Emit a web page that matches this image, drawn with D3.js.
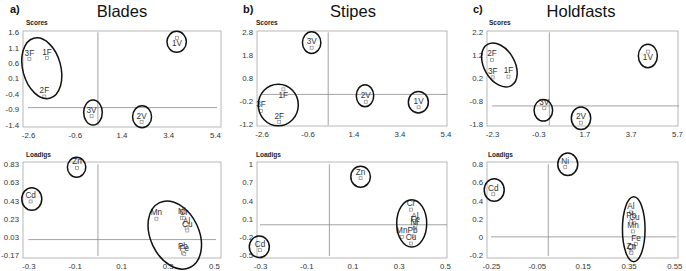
<!DOCTYPE html>
<html><head><meta charset="utf-8">
<script src="https://cdn.jsdelivr.net/npm/d3@7"></script>
<style>body{margin:0;background:#fff} svg{display:block;font-family:"Liberation Sans",Arial,sans-serif}</style>
</head><body><svg id="c" width="686" height="271"></svg>
<script>
// ---------- data ----------
const scoreNames = ["1F","2F","3F","1V","2V","3V"];
const bladesScoreX = [-1.79,-1.90,-2.54,3.77,2.26,0.12];
const bladesScoreY = [0.76,-0.49,0.73,1.42,-1.32,-1.13];
const stipesScoreX = [-1.65,-1.83,-2.62,4.23,1.93,-0.42];
const stipesScoreY = [0.32,-1.10,-0.62,-0.46,-0.22,2.13];
const holdScoreX = [-1.59,-2.30,-2.27,4.44,1.55,-0.04];
const holdScoreY = [0.27,1.00,0.24,1.36,-1.73,-1.10];

const bladesLoadNames = ["Zn","Cd","Mn","Ni","Cr","Al","Cu","Pb","Fe"];
const bladesLoadX = [-0.09,-0.29,0.252,0.362,0.37,0.382,0.385,0.366,0.372];
const bladesLoadY = [0.79,0.42,0.23,0.24,0.235,0.13,0.10,-0.145,-0.16];
const stipesLoadNames = ["Zn","Cd","Cr","Al","Fe","Ni","Mn","Pb","Cu"];
const stipesLoadX = [0.135,-0.30,0.353,0.37,0.372,0.368,0.313,0.36,0.353];
const stipesLoadY = [0.77,-0.42,0.25,0.03,-0.02,-0.06,-0.20,-0.19,-0.31];
const holdLoadNames = ["Ni","Cd","Al","Pb","Cu","Mn","Fe","Zn","Cr"];
const holdLoadX = [0.074,-0.24,0.361,0.362,0.376,0.37,0.383,0.362,0.363];
const holdLoadY = [0.77,0.47,0.27,0.17,0.15,0.06,-0.08,-0.17,-0.18];

const scoreXTicksAB = [-2.6,-0.6,1.4,3.4,5.4];
const bladesScoreYTicks = [1.6,1.1,0.6,0.1,-0.4,-0.9,-1.4];
const stipesScoreYTicks = [2.8,1.8,0.8,-0.2,-1.2];
const holdScoreXTicks = [-2.3,-0.3,1.7,3.7,5.7];
const holdScoreYTicks = [2.2,1.2,0.2,-0.8,-1.8];
const loadXTicksAB = [-0.3,-0.1,0.1,0.3,0.5];
const bladesLoadYTicks = [0.83,0.63,0.43,0.23,0.03,-0.17];
const stipesLoadYTicks = [1,0.7,0.4,0.1,-0.2,-0.5];
const holdLoadXTicks = [-0.25,-0.05,0.15,0.35,0.55];
const holdLoadYTicks = [0.8,0.6,0.4,0.2,0,-0.2];

const titles = ["Blades","Stipes","Holdfasts"];
const letters = ["a)","b)","c)"];

// group ellipses: centre in data units
const bladesScoreGroups = [{x:-2.01,y:0.43},{x:3.76,y:1.29},{x:0.18,y:-1.01},{x:2.28,y:-1.15}];
const stipesScoreGroups = [{x:-1.87,y:-0.36},{x:-0.42,y:2.35},{x:1.90,y:0.04},{x:4.22,y:-0.24}];
const holdScoreGroups = [{x:-1.98,y:0.78},{x:4.44,y:1.17},{x:-0.08,y:-1.19},{x:1.55,y:-1.54}];
const bladesLoadGroups = [{x:-0.092,y:0.797},{x:-0.285,y:0.447},{x:0.331,y:0.05}];
const stipesLoadGroups = [{x:0.135,y:0.795},{x:-0.303,y:-0.364},{x:0.356,y:0.023}];
const holdLoadGroups = [{x:0.085,y:0.80},{x:-0.236,y:0.516},{x:0.373,y:0.085}];

// crossing reference lines (data units)
const crossX = [0.39,0.30,0.18,0,0,0];
const crossY = [-0.85,0.10,-1.0,0,0,0];

// ---------- layout (pixels) ----------
const panels = [
 {names:scoreNames,X:bladesScoreX,Y:bladesScoreY,xt:scoreXTicksAB,yt:bladesScoreYTicks,xr:[28,215],yr:[124.5,32.3],box:[23,31,221,127],
  groups:bladesScoreGroups,ell:[[19,31,-15],[9.7,10.5,0],[9.3,12.5,0],[9.5,11,0]],below:["1V"],head:"Scores",hx:26,hy:25},
 {names:scoreNames,X:stipesScoreX,Y:stipesScoreY,xt:scoreXTicksAB,yt:stipesScoreYTicks,xr:[261.5,445.5],yr:[124.3,32.3],box:[257,31,447,126],
  groups:stipesScoreGroups,ell:[[20,20.8,0],[9.2,10.8,0],[8.7,11,0],[10,10.8,0]],below:["1F"],head:"Scores",hx:256,hy:25},
 {names:scoreNames,X:holdScoreX,Y:holdScoreY,xt:holdScoreXTicks,yt:holdScoreYTicks,xr:[492,677],yr:[124.3,32.3],box:[487,31,678,126],
  groups:holdScoreGroups,ell:[[15.3,23.8,-30],[9.5,11.8,0],[9.3,10.8,0],[9.7,11.3,0]],below:["1V"],head:"Scores",hx:489,hy:25},
 {names:bladesLoadNames,X:bladesLoadX,Y:bladesLoadY,xt:loadXTicksAB,yt:bladesLoadYTicks,xr:[28.3,214],yr:[255,164.3],box:[23,162,221,258],
  groups:bladesLoadGroups,ell:[[9.2,10,0],[10,11.3,0],[24.3,35.8,-25]],below:[],head:"Loadigs",hx:26,hy:157},
 {names:stipesLoadNames,X:stipesLoadX,Y:stipesLoadY,xt:loadXTicksAB,yt:stipesLoadYTicks,xr:[260,445],yr:[255,164.3],box:[257,162,447,258],
  groups:stipesLoadGroups,ell:[[9.8,10.5,0],[10,10.8,0],[15,23.7,0]],below:[],head:"Loadigs",hx:256,hy:157},
 {names:holdLoadNames,X:holdLoadX,Y:holdLoadY,xt:holdLoadXTicks,yt:holdLoadYTicks,xr:[491,674.3],yr:[255,164.3],box:[487,162,678,258],
  groups:holdLoadGroups,ell:[[10,11.2,0],[10,11.3,0],[11.3,32.5,0]],below:[],head:"Loadigs",hx:488,hy:157}
];

const svg = d3.select("#c");
const fmt = d => String(d);

// titles
const titleCentre = [122,353,581];
const letterX = [10,243,473];
titles.forEach((t,i)=>{
  svg.append("text").attr("x",letterX[i]).attr("y",13).attr("font-size",11).attr("font-weight","bold").attr("fill","#111").text(letters[i]);
  svg.append("text").attr("x",titleCentre[i]).attr("y",16.5).attr("text-anchor","middle").attr("font-size",16.5).attr("fill","#111").text(t);
});

panels.forEach((p,pi)=>{
  const x = d3.scaleLinear().domain([p.xt[0],p.xt[p.xt.length-1]]).range(p.xr);
  const y = d3.scaleLinear().domain([p.yt[p.yt.length-1],p.yt[0]]).range(p.yr);
  const g = svg.append("g");
  const [bx0,by0,bx1,by1] = p.box;
  g.append("rect").attr("x",bx0).attr("y",by0).attr("width",bx1-bx0).attr("height",by1-by0)
    .attr("fill","none").attr("stroke","#a6a6a6").attr("stroke-width",0.8);
  g.append("text").attr("x",p.hx).attr("y",p.hy).attr("font-size",6.5).attr("font-weight","bold").attr("fill","#222").text(p.head);

  // axes
  const ya = g.append("g").attr("transform",`translate(${bx0},0)`)
    .call(d3.axisLeft(y).tickValues(p.yt).tickFormat(fmt).tickSize(0).tickPadding(4));
  const xa = g.append("g").attr("transform",`translate(0,${by1})`)
    .call(d3.axisBottom(x).tickValues(p.xt).tickFormat(fmt).tickSize(0).tickPadding(5));
  [ya,xa].forEach(a=>{a.select(".domain").remove();
    a.selectAll("text").attr("font-size",7.8).attr("fill","#333").attr("font-family","'Liberation Sans',Arial,sans-serif");});

  // reference lines
  g.append("line").attr("x1",x(crossX[pi])).attr("x2",x(crossX[pi])).attr("y1",p.yr[1]).attr("y2",p.yr[0]+1)
    .attr("stroke","#8c8c8c").attr("stroke-width",0.8);
  g.append("line").attr("x1",p.xr[0]).attr("x2",p.xr[1]+2).attr("y1",y(crossY[pi])).attr("y2",y(crossY[pi]))
    .attr("stroke","#8c8c8c").attr("stroke-width",0.8);

  const pts = p.names.map((n,i)=>({n,x:p.X[i],y:p.Y[i]}));
  g.selectAll("rect.m").data(pts).join("rect").attr("class","m")
    .attr("x",d=>x(d.x)-1.5).attr("y",d=>y(d.y)-1.5).attr("width",3).attr("height",3)
    .attr("fill","#fff").attr("stroke","#8a8a8a").attr("stroke-width",0.7);
  g.selectAll("text.l").data(pts).join("text").attr("class","l")
    .attr("x",d=>x(d.x)).attr("y",d=>p.below.includes(d.n)? y(d.y)+8.5 : y(d.y)-3.5)
    .attr("text-anchor","middle").attr("font-size",8.2).attr("fill","#333").text(d=>d.n);

  g.selectAll("ellipse").data(p.groups).join("ellipse")
    .attr("cx",0).attr("cy",0)
    .attr("rx",(d,i)=>p.ell[i][0]).attr("ry",(d,i)=>p.ell[i][1])
    .attr("transform",(d,i)=>`translate(${x(d.x)},${y(d.y)}) rotate(${p.ell[i][2]})`)
    .attr("fill","none").attr("stroke","#111").attr("stroke-width",1.5);
});
</script></body></html>
